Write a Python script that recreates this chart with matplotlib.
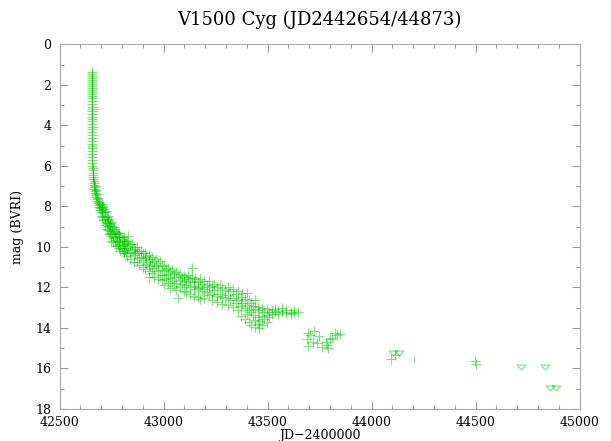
import numpy as np
import matplotlib
matplotlib.use('Agg')
import matplotlib.pyplot as plt
from matplotlib.ticker import MultipleLocator

plt.rcParams['font.family'] = ['DejaVu Serif']

# ---------------------- data (JD-2400000, mag) ----------------------
# outburst peak: one night, many frames
jd_peak = [42654, 42655, 42654, 42655, 42654, 42656, 42654, 42655, 42654, 42655,
           42654, 42656, 42655, 42654, 42655, 42656, 42654, 42655, 42656, 42655,
           42654, 42656, 42655, 42656, 42655, 42656, 42655, 42656, 42656, 42655,
           42656, 42656]
mag_peak = [1.35, 1.45, 1.55, 1.65, 1.75, 1.85, 1.95, 2.05, 2.15, 2.25,
            2.35, 2.45, 2.55, 2.65, 2.8, 2.95, 3.1, 3.2, 3.3, 3.45,
            3.6, 3.7, 3.8, 3.95, 4.1, 4.2, 4.35, 4.5, 4.6, 4.75,
            4.9, 5.0]

# early decline
jd_early = [42656, 42656, 42657, 42657, 42657, 42658, 42658, 42659, 42660, 42660,
            42661, 42662, 42663, 42664, 42665, 42666, 42667, 42668, 42670, 42671,
            42672, 42674, 42675, 42677, 42679, 42680, 42682, 42684, 42686, 42688,
            42690, 42692, 42694, 42696, 42698, 42700]
mag_early = [5.1, 5.25, 5.4, 5.55, 5.7, 5.85, 6.0, 6.1, 6.2, 6.35,
             6.45, 6.55, 6.65, 6.75, 6.85, 6.95, 7.05, 7.15, 7.0, 7.25,
             7.35, 7.2, 7.45, 7.55, 7.4, 7.65, 7.75, 7.6, 7.85, 7.95,
             7.8, 8.05, 8.2, 7.9, 8.3, 8.1]

# BVRI nights 42700-43100: one JD per night, several mags per night
nights_mid = [42703, 42706, 42711, 42714, 42717, 42722, 42726, 42731, 42734, 42737,
              42741, 42745, 42748, 42752, 42758, 42763, 42767, 42771, 42776, 42780,
              42784, 42788, 42792, 42799, 42804, 42808, 42812, 42816, 42820, 42824,
              42830, 42838, 42847, 42856, 42865, 42874, 42882, 42891, 42899,
              42910, 42917, 42928, 42936, 42947, 42956, 42964, 42975, 42983, 42995,
              43004, 43012, 43023, 43031, 43042, 43050, 43061, 43072, 43080, 43091,
              43099]
mags_mid = [[7.9, 8.2, 8.45], [8.05, 8.5], [8.0, 8.3, 8.65], [8.15, 8.6],
            [8.3, 8.5, 8.9], [8.25, 8.75], [8.5, 8.8, 9.1], [8.45, 8.95],
            [8.6, 9.15], [8.65, 8.95, 9.35], [8.8, 9.2], [8.85, 9.3],
            [8.75, 9.05, 9.45, 9.7], [8.95, 9.35], [9.1, 9.35, 9.75], [9.0, 9.55],
            [9.2, 9.65], [9.25, 9.5, 9.95], [9.35, 9.75], [9.3, 9.9],
            [9.3, 9.7, 10.05], [9.45, 9.95], [9.5, 9.85, 10.2], [9.6, 10.05],
            [9.65, 10.1], [9.5, 9.9, 10.3], [9.7, 10.2], [9.75, 10.15],
            [9.8, 10.3], [9.7, 10.05, 10.45],
            [9.45, 9.95], [9.85, 10.25, 10.6], [9.85, 10.15], [10.0, 10.4, 10.75],
            [10.1, 10.3], [10.0, 10.3, 10.75], [10.2, 10.55, 10.9], [10.2, 10.5],
            [10.3, 10.65, 11.0],
            [10.3, 10.55, 11.1], [10.45, 10.85], [10.4, 10.75, 11.2, 11.5],
            [10.6, 10.95], [10.5, 10.9, 11.3], [10.7, 11.05, 11.5], [10.6, 10.95],
            [10.8, 11.2, 11.6], [10.7, 11.4], [10.9, 11.15, 11.65],
            [10.95, 11.4, 11.9], [11.1, 11.6], [11.05, 11.35, 11.8],
            [11.2, 11.55, 12.05], [11.15, 11.7], [11.3, 11.5, 11.95],
            [11.25, 11.8, 12.15], [11.4, 12.5], [11.35, 11.65, 12.0],
            [11.5, 11.85], [11.45, 11.7, 12.2]]

# BVRI nights 43100-43660
nights_late = [43110, 43118, 43127, 43136, 43145, 43153, 43164, 43175, 43186, 43197,
               43209, 43220, 43232, 43245, 43258, 43270, 43283, 43296, 43309, 43322,
               43335, 43348, 43360, 43371, 43379, 43390, 43400, 43410, 43421, 43430,
               43440, 43452, 43461, 43472, 43484, 43496, 43508, 43520, 43535, 43552,
               43572, 43590, 43612, 43628, 43648]
mags_late = [[11.55, 11.9, 12.25], [11.4, 11.75], [11.6, 12.0, 12.3], [11.05, 11.5],
             [11.7, 11.95, 12.4], [11.55, 12.1], [11.75, 12.05, 12.45],
             [11.6, 12.0, 12.55], [11.85, 12.2], [11.7, 12.1, 12.5], [11.9, 12.25],
             [11.7, 12.0, 12.35], [11.95, 12.3, 12.6], [11.85, 12.15],
             [12.0, 12.4, 12.7], [11.9, 12.3], [12.05, 12.45, 12.8], [12.15, 12.5],
             [12.0, 12.35, 12.85], [12.2, 12.6], [12.1, 12.5, 12.95], [12.3, 12.75],
             [12.2, 12.6, 13.1], [12.45, 12.9, 13.4], [12.29, 12.75],
             [12.55, 13.0, 13.55], [12.29, 12.85, 13.3], [12.6, 13.1, 13.7],
             [12.75, 13.2, 13.85], [12.9, 13.35], [12.62, 13.05, 13.6, 13.95],
             [12.95, 13.45, 13.8], [13.1, 13.65, 14.0], [13.0, 13.4, 13.85],
             [13.2, 13.55], [13.05, 13.35, 13.7], [13.2, 13.45], [13.1, 13.3],
             [13.05, 13.2], [13.15, 13.3], [13.0, 13.2], [13.1, 13.25],
             [13.2, 13.3], [13.1, 13.25], [13.2]]

# 1978 season
jd_1978 = [43688, 43696, 43704, 43695, 43720, 43724, 43737, 43749, 43760,
           43781, 43785, 43790, 43800, 43812, 43825, 43833, 43848]
mag_1978 = [14.56, 14.26, 14.35, 14.9, 14.68, 14.14, 14.76, 14.4, 14.95,
            14.68, 14.84, 15.0, 14.56, 14.5, 14.26, 14.35, 14.3]

# faint tail
jd_tail = [44095, 44113, 44498, 44503]
mag_tail = [15.55, 15.34, 15.65, 15.8]

jd_bar = [44204]
mag_bar = [15.55]

# upper limits
jd_lim = [44103, 44132, 44718, 44834, 44858, 44887]
mag_lim = [15.23, 15.23, 15.95, 15.95, 16.95, 16.95]


def flatten(nights, mags):
    jd, mg = [], []
    for t, ms in zip(nights, mags):
        jd += [t] * len(ms)
        mg += ms
    return jd, mg


jd_mid, mag_mid = flatten(nights_mid, mags_mid)
jd_late, mag_late = flatten(nights_late, mags_late)

# ---------------------- plot ----------------------
jd_all = jd_peak + jd_early + jd_mid + jd_late + jd_1978 + jd_tail
mag_all = mag_peak + mag_early + mag_mid + mag_late + mag_1978 + mag_tail

green = '#00c800'
tri = [(-1, 0.55), (1, 0.55), (0, -0.55), (-1, 0.55)]

fig = plt.figure(figsize=(6.11, 4.41), dpi=100)
ax = fig.add_axes([0.0974, 0.0726, 0.8511, 0.8269])

ax.plot(jd_all, mag_all, ls='none', marker='+', ms=7.2, mew=0.8,
        color=green, alpha=0.5)
ax.plot(jd_bar, mag_bar, ls='none', marker='|', ms=4.5, mew=0.8,
        color=green, alpha=0.5)
ax.plot(jd_lim, mag_lim, ls='none', marker=tri, ms=6.5, mew=0.8,
        mfc='none', mec=green, alpha=0.5)

ax.set_xlim(42500, 45000)
ax.set_ylim(18, 0)
ax.xaxis.set_major_locator(MultipleLocator(500))
ax.xaxis.set_minor_locator(MultipleLocator(100))
ax.yaxis.set_major_locator(MultipleLocator(2))
ax.yaxis.set_minor_locator(MultipleLocator(1))

ax.tick_params(which='both', direction='in', top=True, right=True,
               color='#999999', labelsize=9)
ax.tick_params(which='major', length=6, width=0.8)
ax.tick_params(which='minor', length=3, width=0.8)
ax.tick_params(axis='x', pad=5)
ax.tick_params(axis='y', pad=6)
for s in ax.spines.values():
    s.set_color('#aaaaaa')
    s.set_linewidth(0.8)

ax.set_title('V1500 Cyg (JD2442654/44873)', fontsize=13, pad=14)
ax.set_xlabel('JD\u22122400000', fontsize=9, labelpad=0)
ax.set_ylabel('mag (BVRI)', fontsize=9, labelpad=8)

fig.savefig('out.png', dpi=100)
